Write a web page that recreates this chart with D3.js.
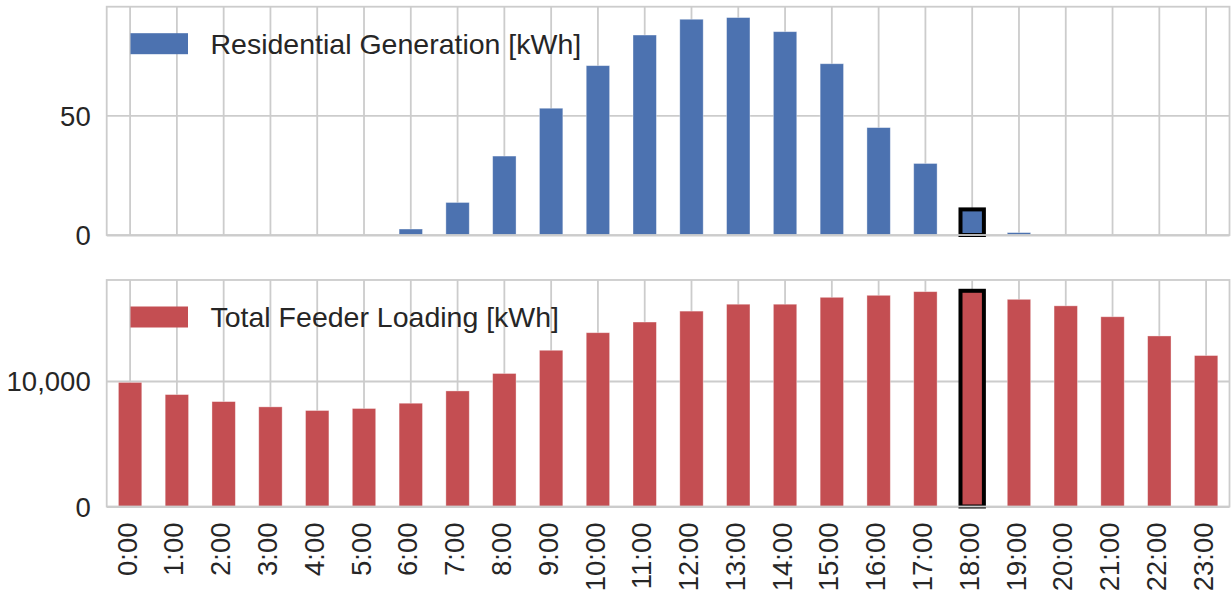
<!DOCTYPE html>
<html>
<head>
<meta charset="utf-8">
<script src="https://cdn.jsdelivr.net/npm/d3@7"></script>
<style>
  html, body { margin: 0; padding: 0; background: #ffffff; }
  svg { display: block; }
  text { font-family: "Liberation Sans", Arial, sans-serif; fill: #262626; }
</style>
</head>
<body>
<svg id="chart" width="1231" height="594"></svg>
<script>
// ---- data ----
const hours = ["0:00","1:00","2:00","3:00","4:00","5:00","6:00","7:00","8:00","9:00","10:00","11:00",
               "12:00","13:00","14:00","15:00","16:00","17:00","18:00","19:00","20:00","21:00","22:00","23:00"];
const generation = [0, 0, 0, 0, 0, 0, 2.5, 13.6, 33.0, 53.0, 70.8, 83.6, 90.2, 90.9, 85.0, 71.6, 44.9, 29.9, 10.7, 1.0, 0, 0, 0, 0];
const loading = [9890, 8920, 8360, 7940, 7650, 7810, 8230, 9210, 10600, 12450, 13850, 14700,
                 15570, 16120, 16120, 16670, 16830, 17120, 17190, 16510, 15990, 15120, 13590, 12030];
const highlightHour = "18:00";
const topTicks = [0, 50];
const bottomTicks = [0, 10000];
const topLegend = "Residential Generation [kWh]";
const bottomLegend = "Total Feeder Loading [kWh]";
const topColor = "#4c72b0";
const bottomColor = "#c44e52";

// ---- layout ----
const svg = d3.select("#chart");
const left = 106.7, right = 1229.5;
const panels = [
  { top: 6.7, bottom: 235, values: generation, ticks: topTicks, color: topColor, legend: topLegend, showX: false },
  { top: 280, bottom: 506.5, values: loading, ticks: bottomTicks, color: bottomColor, legend: bottomLegend, showX: true }
];
const gridColor = "#cccccc";
const fmt = d3.format(",");

const x = d3.scaleBand().domain(hours).range([left, right]).paddingInner(0.5).paddingOuter(0.25);
const cx = h => x(h) + x.bandwidth() / 2;

panels.forEach(p => {
  const y = d3.scaleLinear().domain([0, d3.max(p.values) * 1.05]).range([p.bottom, p.top]);
  const g = svg.append("g");

  // vertical grid
  g.append("g")
    .attr("transform", `translate(0,${p.bottom})`)
    .call(d3.axisBottom(x).tickSize(-(p.bottom - p.top)).tickFormat(""))
    .call(a => a.select(".domain").remove())
    .call(a => a.selectAll("line").attr("stroke", gridColor).attr("stroke-width", 1.8)
      .attr("transform", null))
    .call(a => a.selectAll(".tick").attr("transform", d => `translate(${cx(d)},0)`));

  // horizontal grid + y labels
  g.append("g")
    .attr("transform", `translate(${left},0)`)
    .call(d3.axisLeft(y).tickValues(p.ticks).tickSize(-(right - left)).tickPadding(16).tickFormat(fmt))
    .call(a => a.select(".domain").remove())
    .call(a => a.selectAll("line").attr("stroke", gridColor).attr("stroke-width", 1.8))
    .call(a => a.selectAll("text")
      .style("font-family", '"Liberation Sans", Arial, sans-serif')
      .style("font-size", "27.5px").attr("fill", "#262626").attr("dy", "0.36em"));

  // bars
  g.append("g").selectAll("rect")
    .data(hours.map((h, i) => ({ h, v: p.values[i] })))
    .join("rect")
    .attr("x", d => x(d.h))
    .attr("width", x.bandwidth())
    .attr("y", d => y(d.v))
    .attr("height", d => y(0) - y(d.v))
    .attr("fill", p.color)
    .attr("stroke", d => d.h === highlightHour ? "#000000" : "rgba(255,255,255,0.45)")
    .attr("stroke-width", d => d.h === highlightHour ? 4 : 0.8);

  // spines
  g.append("rect")
    .attr("x", left).attr("y", p.top)
    .attr("width", right - left).attr("height", p.bottom - p.top)
    .attr("fill", "none").attr("stroke", gridColor).attr("stroke-width", 1.8);

  // legend
  g.append("rect")
    .attr("x", 130.5).attr("y", p.top + 26.5)
    .attr("width", 57.5).attr("height", 21)
    .attr("fill", p.color);
  g.append("text")
    .attr("x", 210.5).attr("y", p.top + 47)
    .style("font-size", "28.5px")
    .text(p.legend);

  // x labels
  if (p.showX) {
    g.append("g").selectAll("text")
      .data(hours)
      .join("text")
      .attr("transform", d => `translate(${cx(d)},${p.bottom + 16}) rotate(-90)`)
      .attr("text-anchor", "end")
      .attr("dy", "0.24em")
      .style("font-size", "27.5px")
      .text(d => d);
  }
});
</script>
</body>
</html>
